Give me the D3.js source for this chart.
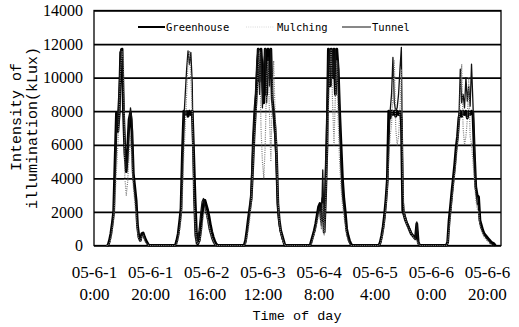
<!DOCTYPE html>
<html>
<head>
<meta charset="utf-8">
<script src="https://cdn.jsdelivr.net/npm/d3@7"></script>
<style>
  html, body { margin: 0; padding: 0; background: #fff; }
  svg { display: block; }
</style>
</head>
<body>
<div id="chart"></div>
<script>
// Readings: one array per day, starting at 4:30 with a value every 30 minutes
const dayStart = 4.5;
const step = 0.5;

const greenhouse = [
  [0, 0, 300, 700, 1300, 2000, 5000, 7900, 6800, 7900, 11500, 11700, 8000, 5500, 4400, 5800, 7500, 7900, 6800, 4300, 3500, 2700, 1200, 500, 300, 700, 750, 500, 300, 150, 0],
  [0, 0, 300, 700, 1400, 2200, 5500, 8000, 7800, 8000, 7700, 8000, 7800, 8000, 5500, 2800, 700, 100, 300, 900, 1800, 2500, 2700, 2400, 2100, 1700, 1200, 800, 500, 250, 100, 0],
  [0, 0, 0, 300, 900, 1600, 2200, 2800, 4500, 6500, 8000, 9500, 11700, 9800, 11700, 10200, 8500, 11700, 9000, 11700, 10000, 11700, 8700, 8000, 7000, 5500, 2500, 1500, 900, 600, 300, 0],
  [0, 0, 300, 600, 900, 1300, 1800, 2300, 2500, 1500, 2800, 800, 3000, 6000, 11700, 9500, 11700, 10000, 11700, 9000, 11700, 10500, 8000, 6000, 4000, 2800, 2000, 1000, 600, 300, 100, 0],
  [0, 0, 0, 200, 600, 1100, 1800, 2700, 3900, 8000, 7600, 8000, 7800, 8000, 7700, 8000, 7800, 8000, 7500, 2100, 1800, 1500, 1300, 1100, 900, 700, 600, 500, 400, 1300, 200, 0],
  [0, 0, 0, 200, 1500, 2300, 3200, 4000, 4800, 5800, 6500, 7600, 8000, 7700, 8000, 7800, 8000, 7600, 8000, 7800, 8000, 7900, 5500, 3500, 3000, 2900, 1500, 1200, 900, 700, 600, 500, 400, 300, 200, 150, 100, 0]
];

const mulching = [
  [0, 0, 100, 400, 900, 1500, 2800, 4500, 6000, 8000, 10500, 11600, 11000, 4000, 3000, 3800, 5500, 6500, 5000, 3500, 2600, 1800, 800, 300, 200, 500, 600, 300, 150, 50, 0],
  [0, 0, 100, 400, 900, 1600, 3000, 5500, 7000, 9000, 11000, 11600, 10000, 8000, 3500, 1500, 300, 100, 200, 600, 1200, 1800, 2200, 1900, 1500, 1200, 800, 500, 300, 100, 0],
  [0, 0, 0, 100, 500, 1000, 1600, 2500, 4000, 6000, 7500, 8500, 10500, 11600, 7000, 5000, 4000, 6000, 10000, 11000, 8000, 5000, 9000, 11000, 8000, 6000, 3000, 1500, 800, 500, 200, 0],
  [0, 0, 100, 400, 700, 1000, 1400, 1800, 2000, 1000, 2500, 600, 2500, 5000, 8000, 10500, 11700, 8500, 6000, 9000, 11000, 7500, 5000, 3500, 2500, 1800, 1200, 600, 300, 100, 0],
  [0, 0, 0, 100, 400, 800, 1400, 2200, 3300, 5000, 6500, 7200, 9000, 11000, 7000, 6000, 6500, 8000, 10500, 4000, 1800, 1500, 1200, 1000, 900, 700, 550, 450, 350, 300, 150, 0],
  [0, 0, 0, 100, 900, 1700, 2600, 3400, 4200, 5000, 6000, 7000, 9000, 10800, 7000, 6000, 6500, 7500, 10000, 6500, 6000, 5000, 4000, 2800, 2200, 2000, 1200, 900, 700, 500, 400, 300, 200, 100, 50, 0]
];

const tunnel = [
  [0, 0, 200, 600, 1200, 1900, 4000, 6800, 8000, 9500, 11700, 11200, 9000, 6000, 4600, 5000, 7200, 8200, 7500, 4000, 3200, 2400, 1000, 400, 250, 600, 700, 400, 200, 100, 0],
  [0, 0, 200, 600, 1300, 2000, 5000, 7500, 9000, 10500, 11600, 10800, 11500, 9700, 3000, 600, 100, 400, 1000, 1900, 2600, 2800, 2300, 1900, 1500, 1000, 700, 400, 200, 50, 0],
  [0, 0, 0, 200, 800, 1500, 2100, 3500, 6300, 8000, 9000, 11000, 11700, 9000, 11500, 8200, 10800, 11700, 8500, 11200, 9500, 11700, 9000, 7500, 6300, 4300, 2000, 1200, 750, 400, 200, 0],
  [0, 0, 200, 500, 800, 1200, 1700, 2100, 2300, 1200, 4500, 1000, 5000, 8000, 11000, 11700, 9500, 11700, 10000, 11700, 9800, 11000, 8000, 4700, 3000, 2300, 1500, 750, 400, 200, 0],
  [0, 0, 0, 150, 500, 1000, 1600, 2500, 3700, 6000, 8000, 9000, 11200, 8500, 8000, 8200, 9000, 10500, 11800, 3000, 2000, 1700, 1400, 1200, 1000, 800, 650, 500, 400, 1400, 200, 0],
  [0, 0, 0, 150, 1200, 2000, 2900, 3700, 4500, 5500, 6300, 7500, 10500, 8500, 9000, 8200, 10000, 8600, 9500, 8300, 10800, 8500, 6000, 3300, 2500, 2400, 1300, 1000, 800, 600, 500, 400, 300, 200, 100, 50, 0]
];

// x ticks every 20 hours from 05-6-1 0:00
const xTickHours = [0, 20, 40, 60, 80, 100, 120, 140];
const xTickDates = ['05-6-1', '05-6-1', '05-6-2', '05-6-3', '05-6-4', '05-6-5', '05-6-6', '05-6-6'];
const xTickTimes = ['0:00', '20:00', '16:00', '12:00', '8:00', '4:00', '0:00', '20:00'];
const yTicks = [0, 2000, 4000, 6000, 8000, 10000, 12000, 14000];

const width = 519, height = 327;
const plotLeft = 94, plotRight = 501, plotTop = 10.5, plotBottom = 245.5;

const x = d3.scaleLinear().domain([0, 145]).range([plotLeft, plotRight]);
const y = d3.scaleLinear().domain([0, 14000]).range([plotBottom, plotTop]);

const svg = d3.select('#chart').append('svg')
  .attr('width', width)
  .attr('height', height)
  .attr('viewBox', `0 0 ${width} ${height}`);

svg.append('defs').append('clipPath').attr('id', 'plot-clip')
  .append('rect')
  .attr('x', plotLeft).attr('y', plotTop - 1)
  .attr('width', plotRight - plotLeft).attr('height', plotBottom - plotTop + 2);

// Horizontal gridlines
svg.append('g')
  .attr('transform', `translate(${plotLeft},0)`)
  .call(d3.axisLeft(y).tickValues(yTicks).tickSize(-(plotRight - plotLeft)).tickFormat(''))
  .call((g) => g.select('.domain').remove())
  .call((g) => g.selectAll('line').attr('stroke', '#000').attr('stroke-width', 1.7));

// Plot frame
svg.append('rect')
  .attr('x', plotLeft).attr('y', plotTop)
  .attr('width', plotRight - plotLeft).attr('height', plotBottom - plotTop)
  .attr('fill', 'none')
  .attr('stroke', '#000')
  .attr('stroke-width', 1.3);

// Y tick labels
svg.append('g')
  .attr('transform', `translate(${plotLeft},0)`)
  .call(d3.axisLeft(y).tickValues(yTicks).tickSize(0).tickPadding(11).tickFormat(d3.format('d')))
  .call((g) => g.select('.domain').remove())
  .call((g) => g.selectAll('text')
    .attr('fill', '#000')
    .style('font-family', '"Liberation Serif", serif')
    .style('font-size', '16px'));

// X tick labels (two lines each)
const xAxis = svg.append('g')
  .attr('transform', `translate(0,${plotBottom})`)
  .call(d3.axisBottom(x).tickValues(xTickHours).tickSize(0).tickFormat(''))
  .call((g) => g.select('.domain').remove());

xAxis.selectAll('.tick text').remove();
xAxis.selectAll('.tick').each(function (h, i) {
  const t = d3.select(this).append('text')
    .attr('fill', '#000')
    .attr('text-anchor', 'middle')
    .style('font-family', '"Liberation Serif", serif')
    .style('font-size', '17px');
  t.append('tspan').attr('x', 0).attr('y', 32).text(xTickDates[i]);
  t.append('tspan').attr('x', 0).attr('y', 54).text(xTickTimes[i]);
});

// Lines
const toPoints = (days) =>
  days.flatMap((vals, d) => vals.map((v, i) => ({ h: 24 * d + dayStart + i * step, v })));

const line = d3.line().x((d) => x(d.h)).y((d) => y(d.v));

const styles = {
  Greenhouse: { stroke: '#000', width: 2.8, dash: null },
  Mulching: { stroke: '#7a7a7a', width: 1.2, dash: '1,1.2' },
  Tunnel: { stroke: '#111', width: 1.3, dash: null },
};

const plot = svg.append('g').attr('clip-path', 'url(#plot-clip)');
const drawOrder = [
  ['Greenhouse', greenhouse],
  ['Tunnel', tunnel],
  ['Mulching', mulching],
];
drawOrder.forEach(([name, days]) => {
  const s = styles[name];
  plot.append('path')
    .datum(toPoints(days))
    .attr('fill', 'none')
    .attr('stroke', s.stroke)
    .attr('stroke-width', s.width)
    .attr('stroke-dasharray', s.dash)
    .attr('stroke-linejoin', 'round')
    .attr('d', line);
});

// Legend
const legendY = 27;
const legendItems = [
  { name: 'Greenhouse', x0: 138, x1: 165, tx: 166, w: 2 },
  { name: 'Mulching', x0: 246, x1: 274, tx: 277, w: 1 },
  { name: 'Tunnel', x0: 342, x1: 371, tx: 372, w: 1 },
];
const legend = svg.append('g');
legendItems.forEach((it) => {
  const s = styles[it.name];
  legend.append('line')
    .attr('x1', it.x0).attr('x2', it.x1)
    .attr('y1', legendY).attr('y2', legendY)
    .attr('stroke', it.name === 'Mulching' ? '#d8d8d8' : s.stroke)
    .attr('stroke-width', it.w)
    .attr('stroke-dasharray', s.dash);
  legend.append('text')
    .attr('x', it.tx).attr('y', legendY + 4)
    .attr('fill', '#000')
    .style('font-family', '"DejaVu Sans Mono", monospace')
    .style('font-size', '10.5px')
    .text(it.name);
});

// Axis titles
const yTitle = svg.append('g').attr('transform', 'rotate(-90)');
yTitle.append('text')
  .attr('x', -117).attr('y', 21)
  .attr('text-anchor', 'middle')
  .style('font-family', '"Liberation Mono", monospace')
  .style('font-size', '15px')
  .text('Intensity of');
yTitle.append('text')
  .attr('x', -128).attr('y', 37)
  .attr('text-anchor', 'middle')
  .style('font-family', '"Liberation Mono", monospace')
  .style('font-size', '15px')
  .text('illumination(kLux)');

svg.append('text')
  .attr('x', 297).attr('y', 320)
  .attr('text-anchor', 'middle')
  .style('font-family', '"Liberation Mono", monospace')
  .style('font-size', '13.5px')
  .text('Time of day');
</script>
</body>
</html>
